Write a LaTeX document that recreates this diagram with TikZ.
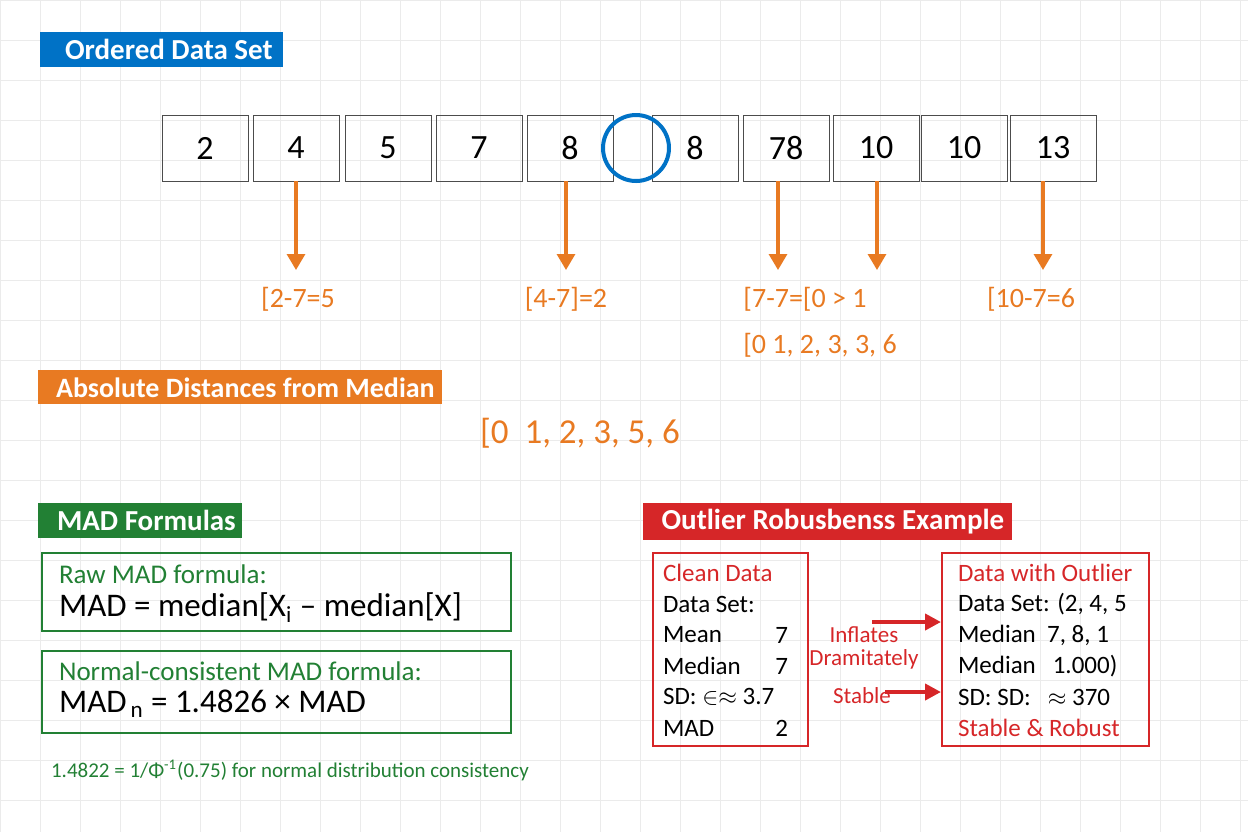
\documentclass[tikz,border=0pt]{standalone}
\usepackage{fontspec}
\setmainfont{Carlito}
\usetikzlibrary{arrows.meta, positioning}
\definecolor{hblue}{RGB}{0,114,198}
\definecolor{horange}{RGB}{232,122,34}
\definecolor{hgreen}{RGB}{34,128,52}
\definecolor{hred}{RGB}{214,38,40}
\begin{document}
\begin{tikzpicture}[
        x=0.5pt, y=-0.5pt,
        header/.style={anchor=north west, inner sep=0pt, text=white, font=\fontsize{14.5}{16}\selectfont\bfseries},
        cell/.style={draw=black!70, minimum width=43pt, minimum height=33pt, inner sep=0pt, font=\fontsize{17}{19}\selectfont},
        diff/.style={text=horange, font=\fontsize{14}{16}\selectfont},
        down/.style={-{Triangle[length=8pt,width=9pt]}, horange, line width=1.6pt},
        frame/.style={draw, line width=0.8pt, anchor=north west, inner sep=0pt},
        push/.style={-{Triangle[length=8pt,width=8pt]}, hred, line width=2pt}
    ]
    \useasboundingbox (0,0) rectangle (1248,832);
    \foreach \g in {0,40,...,1240} \draw[black!8, line width=0.4pt] (\g,0) -- (\g,832);
    \foreach \g in {0,40,...,830} \draw[black!8, line width=0.4pt] (0,\g) -- (1248,\g);

    % Ordered data set
    \node[header, fill=hblue, minimum width=121.5pt, minimum height=17.5pt] (title) at (40,32) {\hspace{7pt}Ordered Data Set\hfill};
    \foreach \v/\x [count=\i] in {2/205, 4/296, 5/388, 7/479, 8/570, 8/695, 78/786, 10/876, 10/964, 13/1053}
        \node[cell] (c\i) at (\x,148) {\v};
    \node[draw=hblue, line width=2pt, circle, minimum size=33pt, inner sep=0pt] (med) at (636,148) {};

    % Distances
    \foreach \i/\x in {2/296, 5/566, 7/778, 8/877, 10/1043}
        \draw[down] (\x,181) -- (\x,270);
    \node[diff] (d1) at (298,299) {[2-7=5};
    \node[diff] (d2) at (566,299) {[4-7]=2};
    \node[diff] (d3) at (805,299) {[7-7=[0 > 1};
    \node[diff] (d4) at (1031,299) {[10-7=6};
    \node[diff] (d5) at (820,345) {[0 1, 2, 3, 3, 6};
    \node[header, fill=horange, minimum width=202pt, minimum height=17pt, font=\fontsize{14}{16}\selectfont\bfseries] (abs) at (38,370) {\hspace{5pt}Absolute Distances from Median\hfill};
    \node[diff, font=\fontsize{17.5}{19}\selectfont] (sorted) at (580,433) {[0\ \ 1, 2, 3, 5, 6};

    % MAD formulas
    \node[header, fill=hgreen, minimum width=102pt, minimum height=17.5pt] (mad) at (38,503) {\hspace{6pt}MAD Formulas\hfill};
    \node[frame, draw=hgreen, minimum width=234.5pt, minimum height=39pt] (raw) at (41,552) {};
    \node[anchor=north west, text=hgreen, font=\fontsize{13.5}{15}\selectfont] at (52,558) {Raw MAD formula:};
    \node[anchor=north west, font=\fontsize{16.5}{18}\selectfont] at (52,586) {MAD = median[X\textsubscript{i} – median[X]};
    \node[frame, draw=hgreen, minimum width=234.5pt, minimum height=41pt] (norm) at (41,650) {};
    \node[anchor=north west, text=hgreen, font=\fontsize{13.5}{15}\selectfont] at (52,655) {Normal-consistent MAD formula:};
    \node[anchor=north west, font=\fontsize{16.5}{18}\selectfont] at (52,683) {MAD\textsubscript{\,n} = 1.4826 × MAD};
    \node[anchor=west, text=hgreen, font=\fontsize{10.5}{12}\selectfont] (note) at (44,770) {1.4822 = 1/Φ\textsuperscript{-1}(0.75) for normal distribution consistency};

    % Outlier robustness
    \node[header, fill=hred, minimum width=184.5pt, minimum height=18.5pt] (rob) at (643,503) {\hspace{5pt}Outlier Robusbenss Example\hfill};
    \node[frame, draw=hred, minimum width=77.5pt, minimum height=96.5pt] (clean) at (652,552) {};
    \node[frame, draw=hred, minimum width=103.5pt, minimum height=96.5pt] (dirty) at (941,552) {};
    \begin{scope}[font=\fontsize{12.5}{14}\selectfont]
        \node[anchor=west, text=hred] at (656,573) {Clean Data};
        \foreach \a/\b/\y in {Data Set://604, Mean/7/635, Median/7/666, SD: $\in\approx$ 3.7//697, MAD/2/728} {
            \node[anchor=west] at (656,\y) {\a};
            \node[anchor=east] at (795,\y) {\b};
        }
        \node[anchor=west, text=hred] at (951,573) {Data with Outlier};
        \foreach \a/\y in {{Data Set: (2, 4, 5}/604, {Median\ \ 7, 8, 1}/635, {Median\ \ \ 1.000)}/666, {SD:\ SD:\ \ \ $\approx$ 370}/697}
            \node[anchor=west] at (951,\y) {\a};
        \node[anchor=west, text=hred] at (951,728) {Stable \& Robust};
        \node[text=hred, font=\fontsize{11.5}{13}\selectfont] (infl) at (864,635) {Inflates};
        \node[text=hred, font=\fontsize{11.5}{13}\selectfont, below=-4pt of infl] (dram) {Dramitately};
        \node[text=hred, font=\fontsize{11.5}{13}\selectfont] (stab) at (862,696) {Stable};
    \end{scope}
    \draw[push] (872,622) -- (dirty.west |- 0,622);
    \draw[push] (885,692) -- (dirty.west |- 0,692);
\end{tikzpicture}
\end{document}
